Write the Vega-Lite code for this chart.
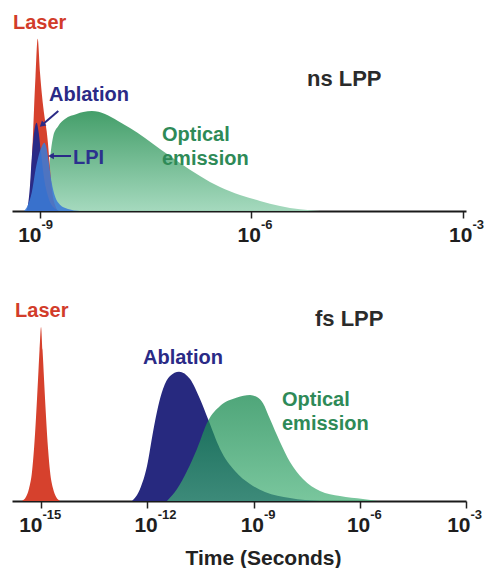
{
  "$schema": "https://vega.github.io/schema/vega-lite/v6.json",
  "padding": {"left": 12, "top": 1, "right": 0, "bottom": 0},
  "background": "white",
  "spacing": 46,
  "config": {"view": {"stroke": null}, "font": "Liberation Sans"},
  "datasets": {
    "ns": [
      {"s": "Laser", "x": 6.541e-10, "v": 0}, {"s": "Laser", "x": 7.213e-10, "v": 8}, {"s": "Laser", "x": 7.7e-10, "v": 25}, {"s": "Laser", "x": 8.22e-10, "v": 48}, {"s": "Laser", "x": 8.633e-10, "v": 64}, {"s": "Laser", "x": 9.277e-10, "v": 82}, {"s": "Laser", "x": 1.0e-9, "v": 66}, {"s": "Laser", "x": 1.068e-9, "v": 55}, {"s": "Laser", "x": 1.158e-9, "v": 45}, {"s": "Laser", "x": 1.245e-9, "v": 38}, {"s": "Laser", "x": 1.299e-9, "v": 32}, {"s": "Laser", "x": 1.387e-9, "v": 20}, {"s": "Laser", "x": 1.48e-9, "v": 10}, {"s": "Laser", "x": 1.632e-9, "v": 3}, {"s": "Laser", "x": 1.801e-9, "v": 0},
      {"s": "Ablation", "x": 6.329e-10, "v": 0}, {"s": "Ablation", "x": 6.757e-10, "v": 3}, {"s": "Ablation", "x": 7.213e-10, "v": 12}, {"s": "Ablation", "x": 7.626e-10, "v": 25}, {"s": "Ablation", "x": 8.087e-10, "v": 35}, {"s": "Ablation", "x": 8.492e-10, "v": 40}, {"s": "Ablation", "x": 8.979e-10, "v": 42}, {"s": "Ablation", "x": 9.522e-10, "v": 38}, {"s": "Ablation", "x": 1.033e-9, "v": 28}, {"s": "Ablation", "x": 1.139e-9, "v": 16}, {"s": "Ablation", "x": 1.299e-9, "v": 7}, {"s": "Ablation", "x": 1.529e-9, "v": 2}, {"s": "Ablation", "x": 1.922e-9, "v": 0},
      {"s": "LPI", "x": 5.929e-10, "v": 0}, {"s": "LPI", "x": 6.757e-10, "v": 3}, {"s": "LPI", "x": 7.626e-10, "v": 8.7}, {"s": "LPI", "x": 8.69e-10, "v": 20}, {"s": "LPI", "x": 9.679e-10, "v": 27}, {"s": "LPI", "x": 1.068e-9, "v": 31}, {"s": "LPI", "x": 1.151e-9, "v": 32.5}, {"s": "LPI", "x": 1.237e-9, "v": 30}, {"s": "LPI", "x": 1.311e-9, "v": 24.8}, {"s": "LPI", "x": 1.466e-9, "v": 13.5}, {"s": "LPI", "x": 1.632e-9, "v": 7}, {"s": "LPI", "x": 1.922e-9, "v": 3}, {"s": "LPI", "x": 2.496e-9, "v": 1}, {"s": "LPI", "x": 3.694e-9, "v": 0},
      {"s": "Optical", "x": 1.177e-9, "v": 0}, {"s": "Optical", "x": 1.257e-9, "v": 10}, {"s": "Optical", "x": 1.342e-9, "v": 20}, {"s": "Optical", "x": 1.432e-9, "v": 29}, {"s": "Optical", "x": 1.544e-9, "v": 35.7}, {"s": "Optical", "x": 1.818e-9, "v": 40.5}, {"s": "Optical", "x": 2.262e-9, "v": 43.8}, {"s": "Optical", "x": 3.317e-9, "v": 46.2}, {"s": "Optical", "x": 4.113e-9, "v": 47.1}, {"s": "Optical", "x": 5.465e-9, "v": 47.6}, {"s": "Optical", "x": 8.356e-9, "v": 46.2}, {"s": "Optical", "x": 1.278e-8, "v": 42.9}, {"s": "Optical", "x": 1.891e-8, "v": 39.5}, {"s": "Optical", "x": 3.086e-8, "v": 34.8}, {"s": "Optical", "x": 5.036e-8, "v": 29.5}, {"s": "Optical", "x": 9.678e-8, "v": 22.9}, {"s": "Optical", "x": 1.86e-7, "v": 16.7}, {"s": "Optical", "x": 3.576e-7, "v": 11.4}, {"s": "Optical", "x": 6.87e-7, "v": 7.6}, {"s": "Optical", "x": 1.32e-6, "v": 4.8}, {"s": "Optical", "x": 2.537e-6, "v": 2.4}, {"s": "Optical", "x": 4.876e-6, "v": 0.8}, {"s": "Optical", "x": 9.368e-6, "v": 0}
    ],
    "fs": [
      {"s": "Laser", "x": 2.908e-16, "v": 0}, {"s": "Laser", "x": 3.771e-16, "v": 2}, {"s": "Laser", "x": 4.583e-16, "v": 6}, {"s": "Laser", "x": 5.57e-16, "v": 14}, {"s": "Laser", "x": 6.346e-16, "v": 25}, {"s": "Laser", "x": 7.226e-16, "v": 40}, {"s": "Laser", "x": 8.229e-16, "v": 58}, {"s": "Laser", "x": 9.072e-16, "v": 72}, {"s": "Laser", "x": 1.0e-15, "v": 82.9}, {"s": "Laser", "x": 1.102e-15, "v": 72}, {"s": "Laser", "x": 1.215e-15, "v": 58}, {"s": "Laser", "x": 1.384e-15, "v": 40}, {"s": "Laser", "x": 1.576e-15, "v": 25}, {"s": "Laser", "x": 1.796e-15, "v": 14}, {"s": "Laser", "x": 2.182e-15, "v": 6}, {"s": "Laser", "x": 2.652e-15, "v": 2}, {"s": "Laser", "x": 3.439e-15, "v": 0},
      {"s": "Ablation", "x": 3.707e-13, "v": 0}, {"s": "Ablation", "x": 6.237e-13, "v": 5.7}, {"s": "Ablation", "x": 9.84e-13, "v": 16.7}, {"s": "Ablation", "x": 1.452e-12, "v": 32.9}, {"s": "Ablation", "x": 2.009e-12, "v": 44.8}, {"s": "Ablation", "x": 2.78e-12, "v": 53.3}, {"s": "Ablation", "x": 4.385e-12, "v": 59.5}, {"s": "Ablation", "x": 7.87e-12, "v": 61.6}, {"s": "Ablation", "x": 1.611e-11, "v": 58.1}, {"s": "Ablation", "x": 3.083e-11, "v": 48.6}, {"s": "Ablation", "x": 5.188e-11, "v": 39}, {"s": "Ablation", "x": 1.132e-10, "v": 24.8}, {"s": "Ablation", "x": 2.999e-10, "v": 14.3}, {"s": "Ablation", "x": 7.962e-10, "v": 8.1}, {"s": "Ablation", "x": 2.109e-9, "v": 4.3}, {"s": "Ablation", "x": 1.072e-8, "v": 1.4}, {"s": "Ablation", "x": 7.534e-8, "v": 0},
      {"s": "Optical", "x": 3.606e-12, "v": 0}, {"s": "Optical", "x": 6.918e-12, "v": 5.7}, {"s": "Optical", "x": 1.324e-11, "v": 14.3}, {"s": "Optical", "x": 2.535e-11, "v": 24.8}, {"s": "Optical", "x": 5.188e-11, "v": 38.1}, {"s": "Optical", "x": 1.132e-10, "v": 45.2}, {"s": "Optical", "x": 3.42e-10, "v": 49.3}, {"s": "Optical", "x": 7.962e-10, "v": 50.5}, {"s": "Optical", "x": 1.253e-9, "v": 49.5}, {"s": "Optical", "x": 1.854e-9, "v": 46.6}, {"s": "Optical", "x": 2.917e-9, "v": 39.0}, {"s": "Optical", "x": 5.598e-9, "v": 28.1}, {"s": "Optical", "x": 1.072e-8, "v": 18.6}, {"s": "Optical", "x": 2.495e-8, "v": 10.5}, {"s": "Optical", "x": 7.534e-8, "v": 4.8}, {"s": "Optical", "x": 2.761e-7, "v": 2.4}, {"s": "Optical", "x": 1.233e-6, "v": 1.0}, {"s": "Optical", "x": 3.266e-6, "v": 0}
    ],
    "nsText": [
      {"label": "Laser", "x": 4.14e-10, "v": 86.7, "s": "Laser"},
      {"label": "Ablation", "x": 1.342e-9, "v": 52.4, "s": "Ablation"},
      {"label": "LPI", "x": 2.938e-9, "v": 22.4, "s": "LPI"},
      {"label": "Optical\nemission", "x": 5.377e-8, "v": 33.3, "s": "Optical"},
      {"label": "ns LPP", "x": 6.126e-6, "v": 59.5, "s": "Title"}
    ],
    "fsText": [
      {"label": "Laser", "x": 1.845e-16, "v": 87.6, "s": "Laser"},
      {"label": "Ablation", "x": 7.58e-13, "v": 65.2, "s": "Ablation"},
      {"label": "Optical\nemission", "x": 6.368e-9, "v": 45.2, "s": "Optical"},
      {"label": "fs LPP", "x": 5.442e-8, "v": 83.3, "s": "Title"}
    ],
    "arrows": [
      {"id": "a", "x": 1.818e-9, "v": 47.6, "x2": 1.068e-9, "v2": 41.0},
      {"id": "l", "x": 2.753e-9, "v": 26.2, "x2": 1.432e-9, "v2": 26.2}
    ]
  },
  "vconcat": [
    {
      "width": 454,
      "height": 210,
      "resolve": {"axis": {"x": "independent"}},
      "layer": [
        {
          "data": {"name": "ns"},
          "transform": [{"filter": "datum.s == 'Optical'"}],
          "mark": {"type": "area", "interpolate": "monotone", "opacity": 0.92, "color": {"gradient": "linear", "x1": 0, "y1": 0, "x2": 0, "y2": 1, "stops": [{"offset": 0, "color": "#34965d"}, {"offset": 1, "color": "#9dd6b8"}]}},
          "encoding": {
            "x": {"field": "x", "type": "quantitative", "scale": {"type": "log", "domain": [4.009e-10, 1.104e-3], "nice": false},
              "axis": {"orient": "bottom", "values": [1e-9, 1e-6, 1e-3], "labelExpr": "'10'", "labelFontSize": 21, "labelFontWeight": "bold", "labelColor": "#1e1e1e", "labelAlign": "right", "labelBaseline": "top", "labelPadding": 6, "labelFlush": false, "labelOverlap": false, "labelBound": false, "tickSize": 7, "tickWidth": 1.5, "tickColor": "#222222", "domainColor": "#1a1a1a", "domainWidth": 2, "grid": false, "title": null,
                "labelOffset": {"condition": {"test": "datum.value < 1e-8", "value": 1}, "value": 9}}},
            "y": {"field": "v", "type": "quantitative", "scale": {"domain": [0, 100], "nice": false}, "axis": null}
          }
        },
        {
          "data": {"name": "ns"},
          "transform": [{"filter": "datum.s == 'Laser'"}],
          "mark": {"type": "area", "interpolate": "monotone", "color": "#d6412d"},
          "encoding": {
            "x": {"field": "x", "type": "quantitative", "scale": {"type": "log", "domain": [4.009e-10, 1.104e-3], "nice": false},
              "axis": {"orient": "bottom", "values": [1e-9, 1e-6, 1e-3], "labelExpr": "'' + round(log(datum.value) / LN10)", "labelFontSize": 13, "labelFontWeight": "bold", "labelColor": "#1e1e1e", "labelAlign": "left", "labelBaseline": "top", "labelPadding": 0, "labelFlush": false, "labelOverlap": false, "labelBound": false, "tickSize": 7, "tickOpacity": 0, "domain": false, "grid": false, "title": null,
                "labelOffset": {"condition": {"test": "datum.value < 1e-8", "value": 1}, "value": 9}}},
            "y": {"field": "v", "type": "quantitative", "scale": {"domain": [0, 100], "nice": false}, "axis": null}
          }
        },
        {
          "data": {"name": "ns"},
          "transform": [{"filter": "datum.s == 'Ablation'"}],
          "mark": {"type": "area", "interpolate": "monotone", "color": "#2a2a86"},
          "encoding": {
            "x": {"field": "x", "type": "quantitative", "scale": {"type": "log", "domain": [4.009e-10, 1.104e-3], "nice": false}, "axis": null},
            "y": {"field": "v", "type": "quantitative", "scale": {"domain": [0, 100], "nice": false}, "axis": null}
          }
        },
        {
          "data": {"name": "ns"},
          "transform": [{"filter": "datum.s == 'LPI'"}],
          "mark": {"type": "area", "interpolate": "monotone", "color": "#3b7bd6", "opacity": 0.88},
          "encoding": {
            "x": {"field": "x", "type": "quantitative", "scale": {"type": "log", "domain": [4.009e-10, 1.104e-3], "nice": false}, "axis": null},
            "y": {"field": "v", "type": "quantitative", "scale": {"domain": [0, 100], "nice": false}, "axis": null}
          }
        },
        {
          "data": {"name": "arrows"},
          "mark": {"type": "rule", "color": "#2a2a86", "strokeWidth": 2},
          "encoding": {
            "x": {"field": "x", "type": "quantitative", "scale": {"type": "log", "domain": [4.009e-10, 1.104e-3], "nice": false}, "axis": null},
            "x2": {"field": "x2"},
            "y": {"field": "v", "type": "quantitative", "scale": {"domain": [0, 100], "nice": false}, "axis": null},
            "y2": {"field": "v2"}
          }
        },
        {
          "data": {"name": "arrows"},
          "transform": [{"filter": "datum.id == 'a'"}],
          "mark": {"type": "point", "shape": "triangle-up", "filled": true, "color": "#2a2a86", "opacity": 1, "size": 45, "angle": 228},
          "encoding": {
            "x": {"field": "x2", "type": "quantitative", "scale": {"type": "log", "domain": [4.009e-10, 1.104e-3], "nice": false}, "axis": null},
            "y": {"field": "v2", "type": "quantitative", "scale": {"domain": [0, 100], "nice": false}, "axis": null}
          }
        },
        {
          "data": {"name": "arrows"},
          "transform": [{"filter": "datum.id == 'l'"}],
          "mark": {"type": "point", "shape": "triangle-up", "filled": true, "color": "#2a2a86", "opacity": 1, "size": 45, "angle": 270},
          "encoding": {
            "x": {"field": "x2", "type": "quantitative", "scale": {"type": "log", "domain": [4.009e-10, 1.104e-3], "nice": false}, "axis": null},
            "y": {"field": "v2", "type": "quantitative", "scale": {"domain": [0, 100], "nice": false}, "axis": null}
          }
        },
        {
          "data": {"name": "nsText"},
          "transform": [{"filter": "datum.s != 'Title'"}],
          "mark": {"type": "text", "align": "left", "baseline": "alphabetic", "fontSize": 20, "fontWeight": "bold", "font": "Liberation Sans", "lineBreak": "\n", "lineHeight": 24},
          "encoding": {
            "x": {"field": "x", "type": "quantitative", "scale": {"type": "log", "domain": [4.009e-10, 1.104e-3], "nice": false}, "axis": null},
            "y": {"field": "v", "type": "quantitative", "scale": {"domain": [0, 100], "nice": false}, "axis": null},
            "text": {"field": "label"},
            "color": {"field": "s", "type": "nominal", "scale": {"domain": ["Laser", "Ablation", "LPI", "Optical"], "range": ["#d23c2a", "#2a2a86", "#2b318e", "#2e8a57"]}, "legend": null}
          }
        },
        {
          "data": {"name": "nsText"},
          "transform": [{"filter": "datum.s == 'Title'"}],
          "mark": {"type": "text", "align": "left", "baseline": "alphabetic", "fontSize": 22, "fontWeight": "bold", "font": "Liberation Sans", "color": "#2b2b2b"},
          "encoding": {
            "x": {"field": "x", "type": "quantitative", "scale": {"type": "log", "domain": [4.009e-10, 1.104e-3], "nice": false}, "axis": null},
            "y": {"field": "v", "type": "quantitative", "scale": {"domain": [0, 100], "nice": false}, "axis": null},
            "text": {"field": "label"}
          }
        }
      ]
    },
    {
      "width": 454,
      "height": 210,
      "resolve": {"axis": {"x": "independent"}},
      "layer": [
        {
          "data": {"name": "fs"},
          "transform": [{"filter": "datum.s == 'Ablation'"}],
          "mark": {"type": "area", "interpolate": "monotone", "color": "#27297f"},
          "encoding": {
            "x": {"field": "x", "type": "quantitative", "scale": {"type": "log", "domain": [1.514e-16, 1e-3], "nice": false},
              "axis": {"orient": "bottom", "values": [1e-15, 1e-12, 1e-9, 1e-6, 1e-3], "labelExpr": "'10'", "labelFontSize": 21, "labelFontWeight": "bold", "labelColor": "#1e1e1e", "labelAlign": "right", "labelBaseline": "top", "labelPadding": 6, "labelFlush": false, "labelOverlap": false, "labelBound": false, "tickSize": 7, "tickWidth": 1.5, "tickColor": "#222222", "domainColor": "#1a1a1a", "domainWidth": 2, "grid": false,
                "title": "Time (Seconds)", "titleFontSize": 21, "titleFontWeight": "bold", "titleColor": "#222222", "titlePadding": 12, "titleX": 251, "titleAlign": "center",
                "labelOffset": {"condition": [{"test": "datum.value < 1e-14", "value": 1}, {"test": "datum.value > 1e-4", "value": 4}], "value": 10}}},
            "y": {"field": "v", "type": "quantitative", "scale": {"domain": [0, 100], "nice": false}, "axis": null}
          }
        },
        {
          "data": {"name": "fs"},
          "transform": [{"filter": "datum.s == 'Optical'"}],
          "mark": {"type": "area", "interpolate": "monotone", "opacity": 0.72, "color": {"gradient": "linear", "x1": 0, "y1": 0, "x2": 0, "y2": 1, "stops": [{"offset": 0, "color": "#0b8346"}, {"offset": 1, "color": "#45b077"}]}},
          "encoding": {
            "x": {"field": "x", "type": "quantitative", "scale": {"type": "log", "domain": [1.514e-16, 1e-3], "nice": false},
              "axis": {"orient": "bottom", "values": [1e-15, 1e-12, 1e-9, 1e-6, 1e-3], "labelExpr": "'' + round(log(datum.value) / LN10)", "labelFontSize": 13, "labelFontWeight": "bold", "labelColor": "#1e1e1e", "labelAlign": "left", "labelBaseline": "top", "labelPadding": 0, "labelFlush": false, "labelOverlap": false, "labelBound": false, "tickSize": 7, "tickOpacity": 0, "domain": false, "grid": false, "title": null,
                "labelOffset": {"condition": [{"test": "datum.value < 1e-14", "value": 1}, {"test": "datum.value > 1e-4", "value": 4}], "value": 10}}},
            "y": {"field": "v", "type": "quantitative", "scale": {"domain": [0, 100], "nice": false}, "axis": null}
          }
        },
        {
          "data": {"name": "fs"},
          "transform": [{"filter": "datum.s == 'Laser'"}],
          "mark": {"type": "area", "interpolate": "monotone", "color": "#d6412d"},
          "encoding": {
            "x": {"field": "x", "type": "quantitative", "scale": {"type": "log", "domain": [1.514e-16, 1e-3], "nice": false}, "axis": null},
            "y": {"field": "v", "type": "quantitative", "scale": {"domain": [0, 100], "nice": false}, "axis": null}
          }
        },
        {
          "data": {"name": "fsText"},
          "transform": [{"filter": "datum.s != 'Title'"}],
          "mark": {"type": "text", "align": "left", "baseline": "alphabetic", "fontSize": 20, "fontWeight": "bold", "font": "Liberation Sans", "lineBreak": "\n", "lineHeight": 24},
          "encoding": {
            "x": {"field": "x", "type": "quantitative", "scale": {"type": "log", "domain": [1.514e-16, 1e-3], "nice": false}, "axis": null},
            "y": {"field": "v", "type": "quantitative", "scale": {"domain": [0, 100], "nice": false}, "axis": null},
            "text": {"field": "label"},
            "color": {"field": "s", "type": "nominal", "scale": {"domain": ["Laser", "Ablation", "Optical"], "range": ["#d23c2a", "#2a2a86", "#2e8a57"]}, "legend": null}
          }
        },
        {
          "data": {"name": "fsText"},
          "transform": [{"filter": "datum.s == 'Title'"}],
          "mark": {"type": "text", "align": "left", "baseline": "alphabetic", "fontSize": 22, "fontWeight": "bold", "font": "Liberation Sans", "color": "#2b2b2b"},
          "encoding": {
            "x": {"field": "x", "type": "quantitative", "scale": {"type": "log", "domain": [1.514e-16, 1e-3], "nice": false}, "axis": null},
            "y": {"field": "v", "type": "quantitative", "scale": {"domain": [0, 100], "nice": false}, "axis": null},
            "text": {"field": "label"}
          }
        }
      ]
    }
  ]
}
